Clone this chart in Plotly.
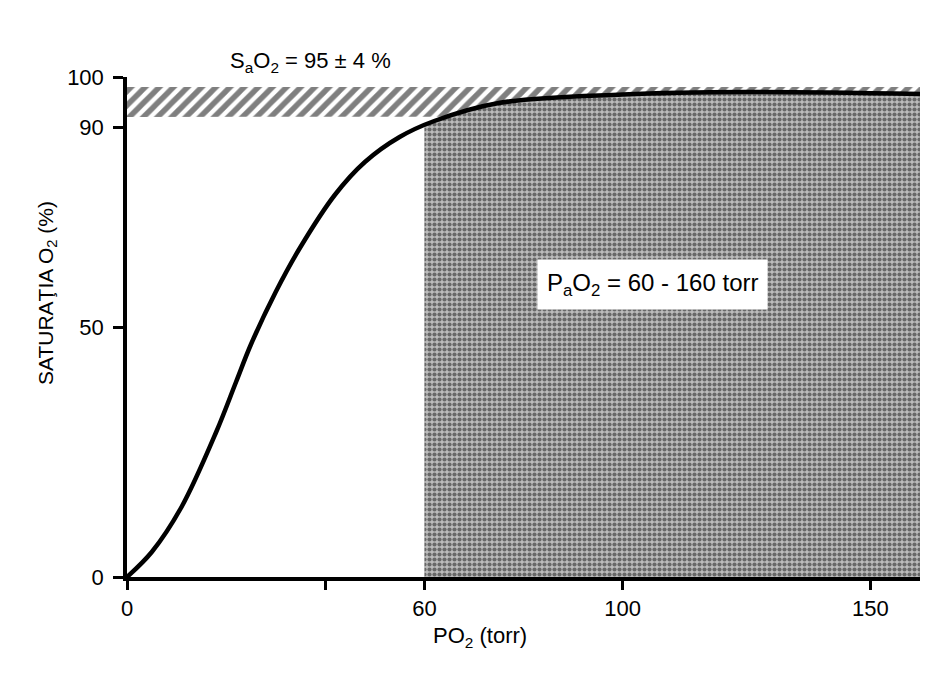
import numpy as np
import plotly.graph_objects as go

# Oxygen dissociation curve (PO2 in torr, saturation in %)
po2 = [0, 5, 11, 18, 22, 25, 30, 35, 42, 48, 55, 62, 75, 100, 125, 160]
sat = [0, 5, 14, 29, 39, 46.5, 57, 66, 76.5, 83, 88, 91.2, 94.8, 96.5, 97, 96.6]

# Normal arterial ranges
pao2_range = [60, 160]      # torr
sao2_band = [92, 98]        # % (95 +/- ~4 as drawn)

x_ticks = [0, 40, 60, 100, 150]
x_ticktext = ["0", "", "60", "100", "150"]
y_ticks = [0, 50, 90, 100]
y_ticktext = ["0", "50", "90", "100"]

FONT = "Liberation Sans, Arial, sans-serif"

fig = go.Figure()

# Shaded PaO2 region: from 60 to 160 torr, under the curve
xs = np.linspace(pao2_range[0], pao2_range[1], 120)
ys = np.interp(xs, po2, sat)
shade_x = list(xs) + [pao2_range[1], pao2_range[0]]
shade_y = list(ys) + [0, 0]
fig.add_trace(go.Scatter(
    x=shade_x, y=shade_y, mode="lines", fill="toself",
    line=dict(width=0, color="rgba(0,0,0,0)"),
    fillcolor="#8a8a8a",
    fillpattern=dict(shape=".", fgcolor="#141414", bgcolor="#bcbcbc",
                     size=5, solidity=0.55),
    hoverinfo="skip", showlegend=False))

# Hatched SaO2 band: between band bottom (or curve) and band top
hx = np.linspace(0, 160, 200)
hlow = np.maximum(sao2_band[0], np.interp(hx, po2, sat))
hatch_x = list(hx) + list(hx[::-1])
hatch_y = list(hlow) + [sao2_band[1]] * len(hx)
fig.add_trace(go.Scatter(
    x=hatch_x, y=hatch_y, mode="lines", fill="toself",
    line=dict(width=0, color="rgba(0,0,0,0)"),
    fillcolor="white",
    fillpattern=dict(shape="/", fgcolor="black", bgcolor="white",
                     size=10, solidity=0.55),
    hoverinfo="skip", showlegend=False))

# Curve
fig.add_trace(go.Scatter(
    x=po2, y=sat, mode="lines",
    line=dict(color="black", width=4.5, shape="spline", smoothing=1.0),
    hoverinfo="skip", showlegend=False))

fig.update_layout(
    width=935, height=684,
    margin=dict(l=127, r=15, t=77, b=107),
    plot_bgcolor="white", paper_bgcolor="white",
    font=dict(family=FONT, size=22, color="black"),
    xaxis=dict(range=[0, 160], showgrid=False, zeroline=False,
               showline=True, linecolor="black", linewidth=4,
               ticks="outside", ticklen=9, tickwidth=2.5, tickcolor="black",
               tickvals=x_ticks, ticktext=x_ticktext,
               tickfont=dict(size=22, family=FONT)),
    yaxis=dict(range=[0, 100], showgrid=False, zeroline=False,
               showline=True, linecolor="black", linewidth=3.5,
               ticks="outside", ticklen=10, tickwidth=2.5, tickcolor="black",
               tickvals=y_ticks, ticktext=y_ticktext, ticklabelstandoff=5,
               tickfont=dict(size=22, family=FONT)),
    annotations=[
        dict(text="P<sub>a</sub>O<sub>2</sub> = 60 - 160 torr",
             x=106, y=58.5, xref="x", yref="y", showarrow=False,
             font=dict(size=24, family=FONT, color="black"),
             bgcolor="white", borderpad=9),
        dict(text="S<sub>a</sub>O<sub>2</sub> = 95 ± 4 %",
             x=(310 - 127) / 793, y=(577 - 62) / 500, xref="paper", yref="paper",
             xanchor="center", yanchor="middle", showarrow=False,
             font=dict(size=22, family=FONT, color="black")),
        dict(text="PO<sub>2</sub> (torr)",
             x=(480 - 127) / 793, y=(577 - 637) / 500, xref="paper", yref="paper",
             xanchor="center", yanchor="middle", showarrow=False,
             font=dict(size=22, family=FONT, color="black")),
        dict(text="SATURAŢIA O<sub>2</sub> (%)",
             x=(47 - 127) / 793, y=(577 - 293) / 500, xref="paper", yref="paper",
             xanchor="center", yanchor="middle", textangle=-90, showarrow=False,
             font=dict(size=21, family=FONT, color="black")),
    ],
)

fig.write_html("out.html")
